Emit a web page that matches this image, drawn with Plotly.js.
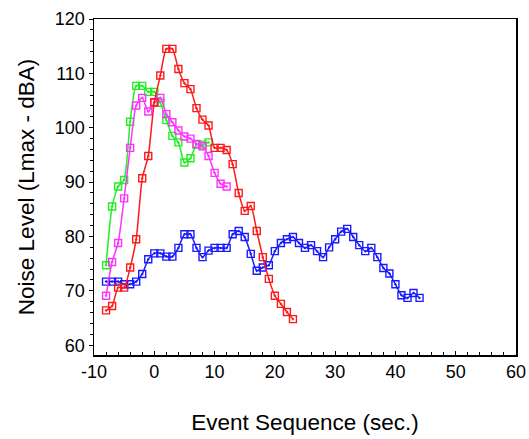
<!DOCTYPE html>
<html>
<head>
<meta charset="utf-8">
<script src="https://cdn.plot.ly/plotly-3.0.1.min.js"></script>
<style>html,body{margin:0;padding:0;background:#fff;}#chart{width:529px;height:439px;}</style>
</head>
<body>
<div id="chart"></div>
<script>
// Red series
const redX = [-8,-7,-6,-5,-4,-3,-2,-1,0,1,2,3,4,5,6,7,8,9,10,11,12,13,14,15,16,17,18,19,20,21,22,23];
const redY = [66.4,67.2,70.6,70.6,74.3,79.5,90.7,94.8,104.7,109.6,114.5,114.5,110.8,108.2,107.1,103.6,101.5,100.4,96.3,96.3,95.9,93.3,88.0,84.7,85.6,81.0,76.2,72.2,69.1,67.6,66.1,64.8];
// Green series
const greenX = [-8,-7,-6,-5,-4,-3,-2,-1,0,1,2,3,4,5,6,7,8,9];
const greenY = [74.7,85.5,89.2,90.4,101.1,107.7,107.7,106.6,106.6,104.6,101.4,98.5,97.3,93.6,94.4,96.9,96.9,97.3];
// Magenta series
const magentaX = [-8,-7,-6,-5,-4,-3,-2,-1,0,1,2,3,4,5,6,7,8,9,10,11,12];
const magentaY = [69.1,75.3,78.8,87.0,96.3,104.1,105.5,103.0,104.6,105.5,102.5,101.0,99.5,98.4,98.0,97.0,96.6,94.8,91.7,89.7,89.2];
// Blue series
const blueX = [-8,-7,-6,-5,-4,-3,-2,-1,0,1,2,3,4,5,6,7,8,9,10,11,12,13,14,15,16,17,18,19,20,21,22,23,24,25,26,27,28,29,30,31,32,33,34,35,36,37,38,39,40,41,42,43,44];
const blueY = [71.7,71.7,71.7,71.2,71.2,71.7,73.1,75.8,76.9,76.9,76.3,76.3,77.9,80.4,80.4,77.9,76.2,77.4,77.9,77.9,77.9,80.4,81.0,79.9,76.8,73.7,74.3,74.7,77.3,78.8,79.5,79.9,78.8,77.9,78.4,77.3,76.2,78.0,79.5,80.9,81.4,79.9,78.4,77.3,77.9,76.2,74.2,73.2,71.2,69.2,68.7,69.6,68.7];

const xTicks = [-10,0,10,20,30,40,50,60];
const yTicks = [60,70,80,90,100,110,120];

function series(x, y, color) {
  return {
    x: x, y: y, type: 'scatter', mode: 'lines+markers',
    line: {color: color, width: 1.5, shape: 'spline', smoothing: 0.6},
    marker: {symbol: 'square-open-dot', size: 7, color: color, line: {width: 1.4, color: color}},
    showlegend: false, hoverinfo: 'skip'
  };
}

const data = [
  series(blueX, blueY, '#1a1aff'),
  series(greenX, greenY, '#22ee22'),
  series(magentaX, magentaY, '#ff33ff'),
  series(redX, redY, '#ff1a1a')
];

const font = {family: 'Liberation Sans, Arial, sans-serif', color: '#000'};

const layout = {
  width: 529, height: 439,
  margin: {l: 94, r: 13, t: 19, b: 84},
  paper_bgcolor: '#fff', plot_bgcolor: '#fff',
  font: font,
  xaxis: {
    range: [-10, 60], tickvals: xTicks, ticktext: xTicks.map(String),
    ticks: 'inside', ticklen: 4, tickwidth: 1, tickcolor: '#000',
    minor: {dtick: 2, ticks: 'inside', ticklen: 3, tickcolor: '#000', showgrid: false},
    showgrid: false, zeroline: false, showline: true, linecolor: '#000', linewidth: 1.5, mirror: true,
    tickfont: {family: font.family, size: 18, color: '#000'},
    title: {text: 'Event Sequence (sec.)', font: {family: font.family, size: 22.5, color: '#000'}, standoff: 33},
    automargin: false
  },
  yaxis: {
    range: [58.2, 120], tickvals: yTicks, ticktext: yTicks.map(String),
    ticks: 'outside', ticklen: 4, tickwidth: 1, tickcolor: '#000',
    minor: {dtick: 2, ticks: 'outside', ticklen: 3, tickcolor: '#000', showgrid: false},
    showgrid: false, zeroline: false, showline: true, linecolor: '#000', linewidth: 1.5, mirror: true,
    tickfont: {family: font.family, size: 18, color: '#000'},
    title: {text: 'Noise Level (Lmax - dBA)', font: {family: font.family, size: 22.5, color: '#000'}, standoff: 14},
    automargin: false
  }
};

Plotly.newPlot('chart', data, layout, {displayModeBar: false, staticPlot: true});
</script>
</body>
</html>
